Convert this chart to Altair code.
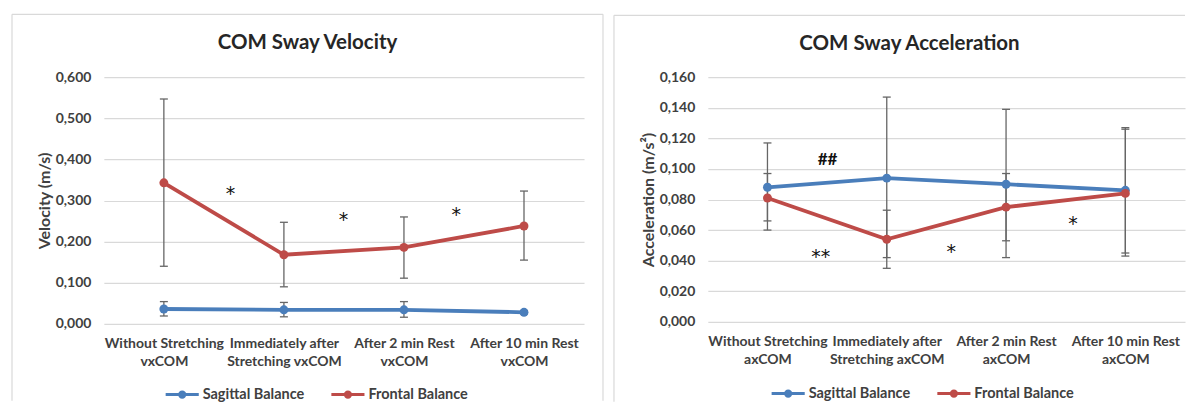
import json
import altair as alt
import pandas as pd

# ---------------- data ----------------
series_names = ["Sagittal Balance", "Frontal Balance"]
series_colors = ["#4A7EBB", "#BE4B48"]

vel_categories = ["Without Stretching\nvxCOM", "Immediately after\nStretching vxCOM",
                  "After 2 min Rest\nvxCOM", "After 10 min Rest\nvxCOM"]
vel_sag = [0.036, 0.034, 0.034, 0.028]
vel_sag_lo = [0.019, 0.017, 0.016, 0.024]
vel_sag_hi = [0.054, 0.052, 0.054, 0.032]
vel_fro = [0.343, 0.168, 0.186, 0.238]
vel_fro_lo = [0.140, 0.090, 0.111, 0.155]
vel_fro_hi = [0.547, 0.247, 0.260, 0.323]
vel_ticks = [0.0, 0.1, 0.2, 0.3, 0.4, 0.5, 0.6]
vel_note_text = ["*", "*", "*"]
vel_note_x = [0.556, 1.496, 2.435]
vel_note_y = [0.328, 0.265, 0.277]

acc_categories = ["Without Stretching\naxCOM", "Immediately after\nStretching axCOM",
                  "After 2 min Rest\naxCOM", "After 10 min Rest\naxCOM"]
acc_sag = [0.088, 0.094, 0.090, 0.086]
acc_sag_lo = [0.060, 0.042, 0.042, 0.045]
acc_sag_hi = [0.117, 0.147, 0.139, 0.127]
acc_fro = [0.081, 0.054, 0.075, 0.084]
acc_fro_lo = [0.066, 0.035, 0.053, 0.043]
acc_fro_hi = [0.097, 0.073, 0.097, 0.126]
acc_ticks = [0.0, 0.02, 0.04, 0.06, 0.08, 0.10, 0.12, 0.14, 0.16]
acc_note_text = ["##", "**", "*", "*"]
acc_note_x = [0.504, 0.446, 1.54, 2.56]
acc_note_y = [0.106, 0.0455, 0.049, 0.067]

FONT = "Lato"
TXT = "#404040"
GRID = "#d9d9d9"
ERR = "#666666"
BORDER = "#d9d9d9"


def build(sag, sag_lo, sag_hi, fro, fro_lo, fro_hi):
    rows = []
    for name, v, lo, hi in [(series_names[0], sag, sag_lo, sag_hi),
                            (series_names[1], fro, fro_lo, fro_hi)]:
        for i in range(len(v)):
            rows.append(dict(idx=i, series=name, val=v[i], lo=lo[i], hi=hi[i]))
    return pd.DataFrame(rows)


SYMBOL = "M-1,0L1,0M-0.16,0A0.16,0.16 0 1,0 0.16,0A0.16,0.16 0 1,0 -0.16,0Z"


def panel(cats, df, ticks, ymax, ytitle, title, notes, w, h, border, legxy, title_dx, right_edge):
    label_lines = json.dumps([c.split("\n") for c in cats])
    x_enc = alt.X("idx:Q", scale=alt.Scale(domain=[-0.5, 3.5], nice=False, zero=False),
                  axis=alt.Axis(values=[0, 1, 2, 3], tickCount=4, title=None, grid=False, domain=False,
                                ticks=False, labelExpr=f"{label_lines}[round(datum.value)]",
                                labelPadding=13, labelLineHeight=18, labelBaseline="top",
                                labelFontSize=14, labelFlush=False, labelOverlap=False))
    y_scale = alt.Scale(domain=[0, ymax], nice=False)
    y_axis = alt.Axis(values=ticks, tickCount=len(ticks), title=ytitle, grid=True, gridColor=GRID,
                      gridWidth=1.2, domain=False, ticks=False, labelPadding=13, titlePadding=3,
                      labelOverlap=False, labelFlush=False,
                      labelExpr="replace(format(datum.value, '.3f'), '.', ',')",
                      labelFontSize=14, titleFontSize=16)

    base = alt.Chart(df)
    one = alt.Chart(pd.DataFrame({"k": [0]}))
    bl, bt, br, bb = border
    borders = [
        one.mark_rule(color=BORDER, strokeWidth=1.2).encode(
            x=alt.value(bl), y=alt.value(bt), y2=alt.value(bb)),
        one.mark_rule(color=BORDER, strokeWidth=1.2).encode(
            x=alt.value(bl), x2=alt.value(br), y=alt.value(bt)),
    ]
    if right_edge:
        borders.append(one.mark_rule(color=BORDER, strokeWidth=1.2).encode(
            x=alt.value(br), y=alt.value(bt), y2=alt.value(bb)))

    err = base.mark_rule(color=ERR, strokeWidth=1.3).encode(
        x=x_enc, y=alt.Y("lo:Q", scale=y_scale, axis=y_axis), y2="hi:Q")
    cap_lo = base.mark_tick(color=ERR, orient="horizontal", size=8, thickness=1.3, opacity=1).encode(
        x="idx:Q", y="lo:Q")
    cap_hi = base.mark_tick(color=ERR, orient="horizontal", size=8, thickness=1.3, opacity=1).encode(
        x="idx:Q", y="hi:Q")
    line = base.mark_line(strokeWidth=3.8).encode(
        x="idx:Q", y="val:Q",
        color=alt.Color("series:N", scale=alt.Scale(domain=series_names, range=series_colors),
                        legend=alt.Legend(title=None, orient="none", legendX=legxy[0], legendY=legxy[1],
                                          direction="horizontal", symbolType=SYMBOL, symbolSize=1100,
                                          symbolStrokeWidth=3, labelFont=FONT, labelFontSize=14.5,
                                          labelFontWeight="bold", labelColor=TXT, labelOffset=2,
                                          columnPadding=20, padding=0)),
        order="idx:Q")
    pts = base.mark_circle(size=80, opacity=1).encode(
        x="idx:Q", y="val:Q",
        fill=alt.Fill("series:N", scale=alt.Scale(domain=series_names, range=series_colors), legend=None))
    ndf = pd.DataFrame({"t": notes[0], "x": notes[1], "y": notes[2]})
    stars = alt.Chart(ndf).transform_filter("datum.t != '##'").mark_text(
        font="DejaVu Sans", fontSize=19, color="#111111", baseline="middle", dy=5).encode(
        x="x:Q", y="y:Q", text="t:N")
    hashes = alt.Chart(ndf).transform_filter("datum.t == '##'").mark_text(
        font=FONT, fontSize=17, fontWeight="bold", color="#111111", baseline="middle", dy=0).encode(
        x="x:Q", y="y:Q", text="t:N")

    return alt.layer(*borders, err, cap_lo, cap_hi, line, pts, stars, hashes).properties(
        width=w, height=h,
        title=alt.TitleParams(title, font=FONT, fontSize=20.5, fontWeight="bold", color="#262626",
                              anchor="middle", frame="bounds", offset=-40, dx=title_dx),
    ).resolve_scale(fill="independent")


df_v = build(vel_sag, vel_sag_lo, vel_sag_hi, vel_fro, vel_fro_lo, vel_fro_hi)
df_a = build(acc_sag, acc_sag_lo, acc_sag_hi, acc_fro, acc_fro_lo, acc_fro_hi)

left = panel(vel_categories, df_v, vel_ticks, 0.6, "Velocity (m/s)", "COM Sway Velocity",
             (vel_note_text, vel_note_x, vel_note_y), 481, 247, (-92, -63, 500, 324), (60, 299), 0, True)
right = panel(acc_categories, df_a, acc_ticks, 0.16, "Acceleration (m/s²)", "COM Sway Acceleration",
              (acc_note_text, acc_note_x, acc_note_y), 478, 245, (-94, -62, 478, 325), (62, 298), 10, False)

chart = alt.hconcat(left, right, spacing=9).resolve_scale(
    color="independent", fill="independent", y="independent", x="independent"
).properties(
    padding={"left": 3, "top": 5, "right": 0, "bottom": 0}, background="white"
).configure_view(stroke=None).configure_axis(
    labelFont=FONT, labelFontWeight="bold", labelColor=TXT,
    titleFont=FONT, titleFontWeight="bold", titleColor=TXT
)

chart.save("out.html", embed_options={"renderer": "svg", "actions": False})
